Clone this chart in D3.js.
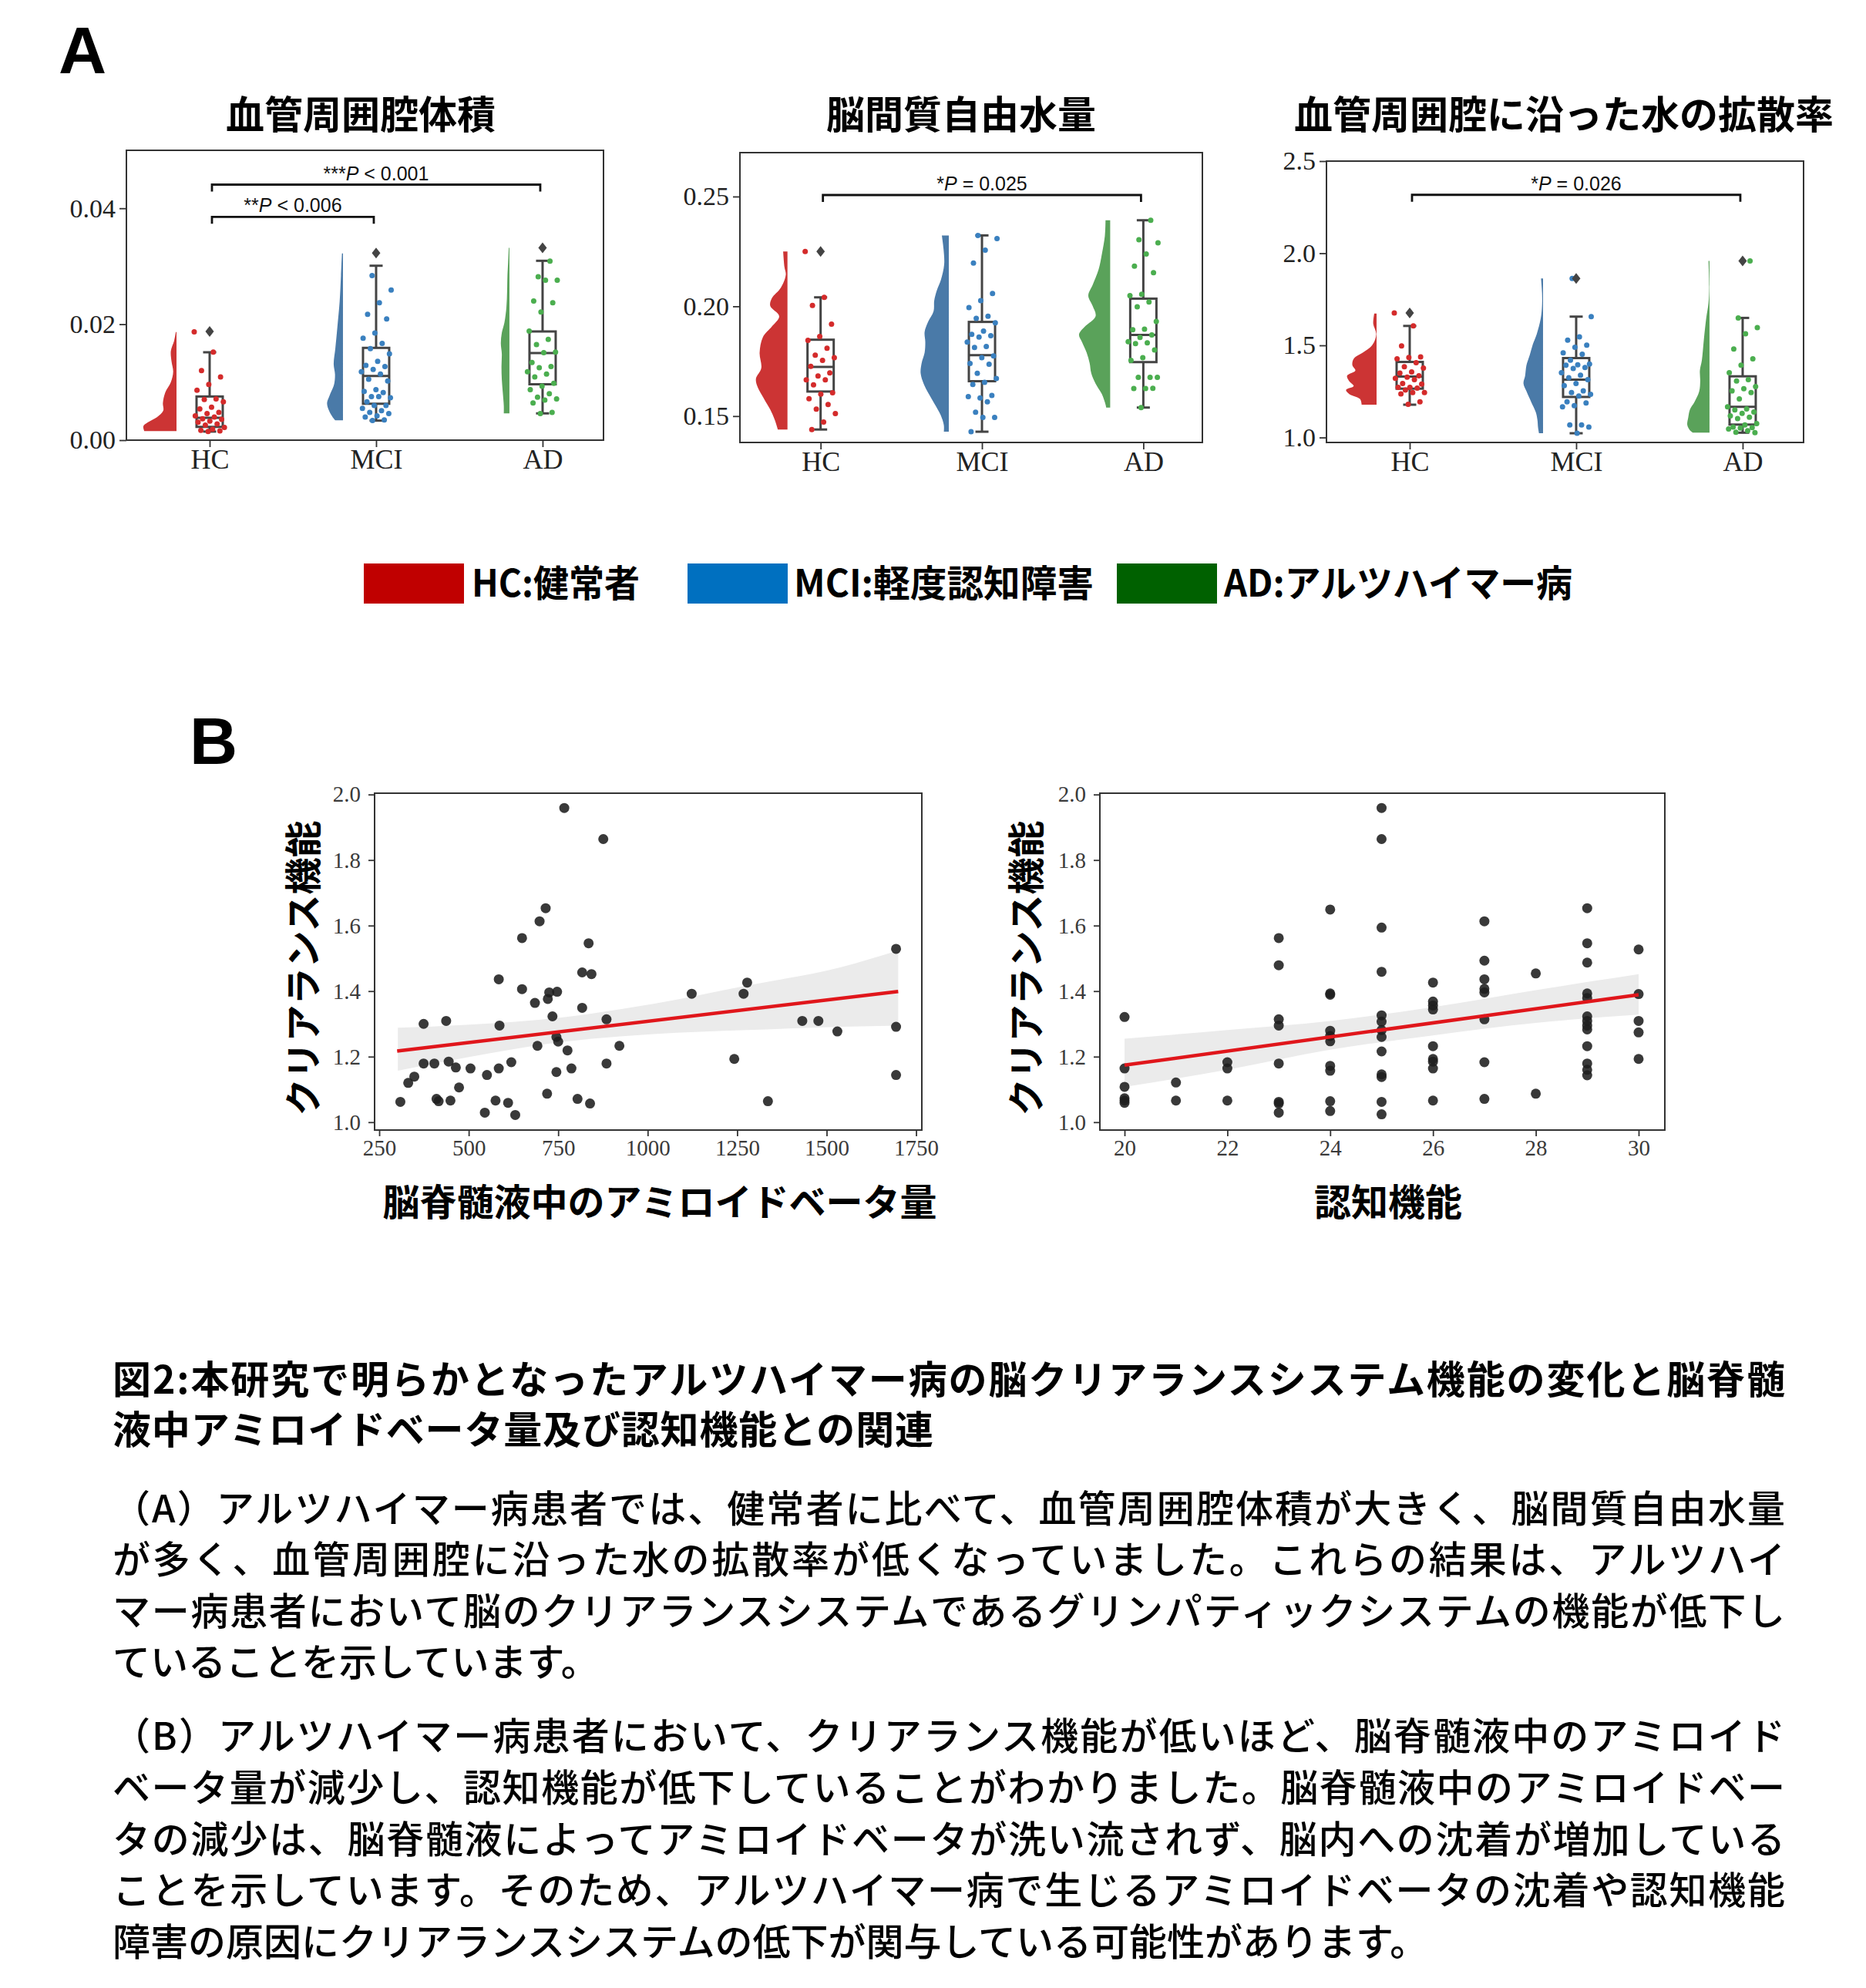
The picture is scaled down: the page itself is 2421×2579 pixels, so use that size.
<!DOCTYPE html>
<html><head><meta charset="utf-8">
<script src="https://cdn.jsdelivr.net/npm/d3@7"></script>
<style>html,body{margin:0;padding:0;background:#fff}svg{display:block}</style>
</head><body>
<svg id="c" width="2421" height="2579"></svg>
<script>
// ---------------- DATA ----------------
const groups = ["HC", "MCI", "AD"];
const violinColors = ["#cc3434", "#4a7aa8", "#5aa25a"];
const pointColors = ["#d42b2b", "#3a80bf", "#4bae4f"];

// Chart A1: 血管周囲腔体積
const pvsTitle = "血管周囲腔体積";
const pvsTicks = [0, 0.02, 0.04];
const pvsPoints = [
  [0.0187,0.0152,0.0120,0.0109,0.0096,0.0086,0.0071,0.0070,0.0066,0.0057,0.0054,0.0048,0.0046,0.0042,0.0040,0.0037,0.0036,0.0033,0.0031,0.0028,0.0026,0.0022,0.0019,0.0017,0.0016,0.0015],
  [0.0284,0.0259,0.0237,0.0217,0.0209,0.0185,0.0176,0.0167,0.0158,0.0149,0.0136,0.0129,0.0127,0.0122,0.0118,0.0114,0.0105,0.0102,0.0087,0.0084,0.0082,0.0075,0.0073,0.0075,0.0066,0.0060,0.0060,0.0055,0.0051,0.0048,0.0046,0.0042,0.0040,0.0035,0.0034],
  [0.0309,0.0282,0.0276,0.0276,0.0240,0.0237,0.0221,0.0188,0.0174,0.0165,0.0152,0.0151,0.0134,0.0127,0.0125,0.0118,0.0114,0.0109,0.0098,0.0093,0.0087,0.0080,0.0074,0.0071,0.0069,0.0064,0.0048,0.0046]
];
const pvsBoxes = [ // min, q1, median, q3, max
  [0.00148,0.00229,0.00385,0.00753,0.01516],
  [0.00337,0.00628,0.01108,0.01592,0.03009],
  [0.00462,0.00964,0.01502,0.01875,0.03094]
];
const pvsOutliers = [[0.01875],[0.03228],[0.03319]];
const pvsViolinValues = [
  [0.01865,0.01717,0.01539,0.01359,0.01180,0.01000,0.00821,0.00641,0.00507,0.00395,0.00305,0.00239,0.00157],
  [0.0322,0.02839,0.02391,0.01942,0.01583,0.01314,0.01135,0.00956,0.00776,0.00641,0.00507,0.00395,0.00341],
  [0.03319,0.03063,0.02839,0.02570,0.02300,0.02032,0.01852,0.01673,0.01494,0.01270,0.01046,0.00821,0.00597,0.00463]
];
const pvsViolinDensity = [
  [0.02,0.07,0.17,0.15,0.10,0.17,0.34,0.41,0.40,0.59,0.87,1.0,0.97],
  [0.03,0.06,0.10,0.17,0.23,0.28,0.24,0.27,0.40,0.48,0.42,0.31,0.23],
  [0.02,0.04,0.06,0.07,0.09,0.15,0.23,0.26,0.23,0.24,0.23,0.20,0.17,0.17]
];
const pvsBrackets = [[0,1,0.03852,"**","< 0.006"],[0,2,0.04408,"***","< 0.001"]];

// Chart A2: 脳間質自由水量
const fwTitle = "脳間質自由水量";
const fwTicks = [0.15, 0.20, 0.25];
const fwPoints = [
  [0.2250,0.2041,0.2004,0.1919,0.1863,0.1845,0.1809,0.1778,0.1766,0.1754,0.1727,0.1697,0.1683,0.1665,0.1665,0.1642,0.1606,0.1600,0.1579,0.1553,0.1532,0.1512,0.1473,0.1439],
  [0.2323,0.2309,0.2256,0.2197,0.2058,0.2026,0.1994,0.1955,0.1945,0.1925,0.1887,0.1872,0.1866,0.1860,0.1837,0.1817,0.1813,0.1774,0.1766,0.1740,0.1736,0.1695,0.1671,0.1654,0.1644,0.1594,0.1583,0.1589,0.1565,0.1518,0.1494,0.1494,0.1429],
  [0.2392,0.2303,0.2289,0.2238,0.2183,0.2153,0.2055,0.2049,0.2020,0.1998,0.1931,0.1896,0.1893,0.1870,0.1858,0.1839,0.1834,0.1830,0.1801,0.1766,0.1754,0.1677,0.1677,0.1677,0.1626,0.1626,0.1627,0.1539]
];
const fwBoxes = [
  [0.1439,0.1612,0.1724,0.1848,0.2041],
  [0.1429,0.1659,0.1778,0.1929,0.2323],
  [0.1539,0.1746,0.1870,0.2035,0.2392]
];
const fwOutliers = [[0.2250],[],[]];
const fwViolinValues = [
  [0.2250,0.2179,0.2144,0.2085,0.2037,0.2002,0.1955,0.1908,0.1860,0.1789,0.1719,0.1671,0.1636,0.1577,0.1530,0.1482,0.1439],
  [0.2323,0.2262,0.2191,0.2120,0.2073,0.2026,0.1978,0.1931,0.1884,0.1837,0.1789,0.1742,0.1695,0.1648,0.1600,0.1553,0.1506,0.1459,0.1429],
  [0.2392,0.2321,0.2238,0.2167,0.2097,0.2049,0.2002,0.1955,0.1908,0.1872,0.1837,0.1789,0.1742,0.1695,0.1648,0.1600,0.1553,0.1539]
];
const fwViolinDensity = [
  [0.13,0.09,0.05,0.20,0.47,0.52,0.25,0.47,0.74,0.84,0.79,0.95,0.91,0.70,0.52,0.38,0.29],
  [0.21,0.16,0.14,0.24,0.36,0.44,0.46,0.62,0.73,0.71,0.73,0.82,0.85,0.76,0.60,0.42,0.25,0.15,0.15],
  [0.14,0.16,0.25,0.35,0.53,0.66,0.53,0.44,0.76,0.94,0.85,0.71,0.62,0.57,0.44,0.25,0.14,0.12]
];
const fwBrackets = [[0,2,0.2507,"*","= 0.025"]];

// Chart A3: 血管周囲腔に沿った水の拡散率
const alpsTitle = "血管周囲腔に沿った水の拡散率";
const alpsTicks = [1.0, 1.5, 2.0, 2.5];
const alpsPoints = [
  [1.676,1.606,1.497,1.437,1.434,1.427,1.406,1.384,1.377,1.356,1.349,1.335,1.328,1.321,1.314,1.293,1.290,1.272,1.272,1.268,1.258,1.244,1.244,1.237,1.194,1.180],
  [1.863,1.656,1.546,1.528,1.501,1.490,1.459,1.452,1.420,1.399,1.394,1.392,1.380,1.375,1.352,1.338,1.324,1.314,1.293,1.282,1.253,1.244,1.234,1.225,1.194,1.187,1.173,1.166,1.068,1.068,1.057,1.023],
  [1.958,1.649,1.596,1.563,1.480,1.427,1.392,1.352,1.314,1.307,1.276,1.265,1.253,1.244,1.209,1.166,1.155,1.150,1.138,1.131,1.117,1.110,1.103,1.075,1.068,1.057,1.054,1.051,1.046,1.037,1.028,1.026]
];
const alpsBoxes = [
  [1.178,1.265,1.331,1.410,1.6055],
  [1.023,1.220,1.314,1.431,1.656],
  [1.026,1.070,1.166,1.332,1.649]
];
const alpsOutliers = [[1.676],[1.863],[1.958]];
const alpsViolinValues = [
  [1.673,1.617,1.561,1.504,1.462,1.427,1.392,1.363,1.335,1.307,1.279,1.258,1.237,1.209,1.178],
  [1.863,1.786,1.715,1.645,1.561,1.504,1.448,1.392,1.335,1.293,1.251,1.194,1.138,1.096,1.054,1.023],
  [1.958,1.814,1.730,1.645,1.532,1.420,1.363,1.307,1.251,1.194,1.152,1.110,1.068,1.039,1.026]
];
const alpsViolinDensity = [
  [0.07,0.10,0.01,0.12,0.40,0.69,0.73,0.64,0.89,0.83,0.69,0.92,0.83,0.50,0.45],
  [0.06,0.03,0.03,0.07,0.19,0.31,0.40,0.50,0.54,0.59,0.50,0.36,0.22,0.17,0.15,0.12],
  [0.03,0.01,0.03,0.10,0.17,0.23,0.29,0.28,0.31,0.45,0.59,0.64,0.67,0.59,0.50]
];
const alpsBrackets = [[0,2,2.317,"*","= 0.026"]];

// Legend
const legendLabels = ["HC:健常者", "MCI:軽度認知障害", "AD:アルツハイマー病"];
const legendColors = ["#c00000", "#0070c0", "#006100"];

// Panel B scatter 1: amyloid beta vs clearance
const clearTicks = [1.0, 1.2, 1.4, 1.6, 1.8, 2.0];
const abTicks = [250, 500, 750, 1000, 1250, 1500, 1750];
const abX = [767,876,715,698,649,835,584,817,843,1278,649,725,747,1123,1268,1694,721,685,817,734,374,437,586,885,1432,1477,1530,1694,745,750,692,776,921,374,404,444,464,505,584,619,787,885,1242,1694,348,331,551,745,473,309,410,416,449,575,610,719,804,839,1336,545,630];
const abY = [1.959,1.864,1.653,1.613,1.562,1.546,1.436,1.457,1.452,1.426,1.406,1.396,1.398,1.392,1.392,1.529,1.376,1.364,1.349,1.323,1.300,1.309,1.295,1.314,1.309,1.309,1.277,1.291,1.260,1.246,1.233,1.219,1.233,1.179,1.179,1.185,1.167,1.164,1.164,1.183,1.164,1.179,1.193,1.144,1.139,1.120,1.144,1.153,1.106,1.062,1.071,1.064,1.066,1.066,1.059,1.087,1.071,1.057,1.064,1.029,1.022];
const abFitX = [300, 1700];
const abFitY = [1.217, 1.399];
const abBandX = [302, 492, 754, 1016, 1278, 1540, 1700];
const abBandLow = [1.157, 1.197, 1.244, 1.269, 1.281, 1.291, 1.295];
const abBandHigh = [1.288, 1.297, 1.319, 1.361, 1.417, 1.473, 1.524];

// Panel B scatter 2: cognition vs clearance
const cogTicks = [20, 22, 24, 26, 28, 30];
const cogX = [20,20,20,20,20,20, 21,21, 22,22,22, 23,23,23,23,23,23,23,23, 24,24,24,24,24,24,24,24,24,24, 25,25,25,25,25,25,25,25,25,25,25,25,25, 26,26,26,26,26,26,26,26,26, 27,27,27,27,27,27,27,27, 28,28, 29,29,29,29,29,29,29,29,29,29,29,29,29, 30,30,30,30,30];
const cogY = [1.321,1.164,1.108,1.073,1.066,1.059, 1.121,1.066, 1.183,1.164,1.066, 1.562,1.479,1.314,1.295,1.179,1.062,1.057,1.029, 1.649,1.393,1.389,1.279,1.263,1.247,1.172,1.157,1.064,1.034, 1.959,1.864,1.594,1.459,1.326,1.307,1.281,1.260,1.216,1.146,1.138,1.062,1.024, 1.426,1.368,1.356,1.344,1.232,1.193,1.185,1.164,1.066, 1.613,1.493,1.436,1.407,1.396,1.314,1.183,1.071, 1.454,1.087, 1.653,1.546,1.487,1.393,1.379,1.323,1.309,1.295,1.283,1.232,1.179,1.160,1.143, 1.527,1.391,1.309,1.274,1.193];
const cogFitX = [20, 30];
const cogFitY = [1.174, 1.389];
const cogBandX = [20, 22, 24, 26, 28, 30];
const cogBandLow = [1.108, 1.160, 1.221, 1.265, 1.303, 1.328];
const cogBandHigh = [1.255, 1.281, 1.309, 1.351, 1.403, 1.452];

const yLabelB = "クリアランス機能";
const xLabelAb = "脳脊髄液中のアミロイドベータ量";
const xLabelCog = "認知機能";

// Caption text
const headingLines = [
  "図2:本研究で明らかとなったアルツハイマー病の脳クリアランスシステム機能の変化と脳脊髄",
  "液中アミロイドベータ量及び認知機能との関連"
];
const paraALines = [
  "（A）アルツハイマー病患者では、健常者に比べて、血管周囲腔体積が大きく、脳間質自由水量",
  "が多く、血管周囲腔に沿った水の拡散率が低くなっていました。これらの結果は、アルツハイ",
  "マー病患者において脳のクリアランスシステムであるグリンパティックシステムの機能が低下し",
  "ていることを示しています。"
];
const paraBLines = [
  "（B）アルツハイマー病患者において、クリアランス機能が低いほど、脳脊髄液中のアミロイド",
  "ベータ量が減少し、認知機能が低下していることがわかりました。脳脊髄液中のアミロイドベー",
  "タの減少は、脳脊髄液によってアミロイドベータが洗い流されず、脳内への沈着が増加している",
  "ことを示しています。そのため、アルツハイマー病で生じるアミロイドベータの沈着や認知機能",
  "障害の原因にクリアランスシステムの低下が関与している可能性があります。"
];

// ---------------- DRAWING ----------------
const svg = d3.select("#c");
const CJK = "'Noto Sans CJK JP','Noto Sans CJK SC',sans-serif";
const SERIF = "'Liberation Serif','Times New Roman',serif";
const SANS = "'Liberation Sans',Arial,sans-serif";

svg.append("rect").attr("width", 2421).attr("height", 2579).attr("fill", "#fff");

function styleAxis(g, size, color) {
  g.select(".domain").remove();
  g.selectAll(".tick line").attr("stroke", "#333").attr("stroke-width", 1.8);
  g.selectAll(".tick text").attr("font-family", SERIF).attr("font-size", size).attr("fill", color);
}

function rainChart(cfg) {
  const g = svg.append("g");
  const x = d3.scaleLinear().domain([-0.5, 2.366]).range([cfg.left, cfg.right]);
  const y = d3.scaleLinear().domain(cfg.yDomain).range([cfg.bottom, cfg.top]);
  const w = d3.scaleLinear().domain([0, 1]).range([0, 43]);

  g.append("text").attr("x", cfg.titleX).attr("y", 145).attr("text-anchor", "middle")
    .attr("dominant-baseline", "central").attr("font-family", CJK).attr("font-weight", 700)
    .attr("font-size", 50).attr("fill", "#000").text(cfg.title);

  // violins
  groups.forEach((grp, i) => {
    const cx = x(i);
    const pts = d3.zip(cfg.vv[i], cfg.vd[i]);
    const area = d3.area()
      .y(d => y(d[0]))
      .x0(() => cx - 43)
      .x1(d => cx - 43 - w(d[1]))
      .curve(d3.curveCatmullRom.alpha(0.5));
    g.append("path").attr("d", area(pts)).attr("fill", violinColors[i]).attr("stroke", "none");
  });

  // boxes
  groups.forEach((grp, i) => {
    const cx = x(i);
    const b = cfg.boxes[i];
    const bw = 34, cw = 17;
    const bg = g.append("g").attr("stroke", "#444").attr("stroke-width", 3).attr("fill", "none");
    bg.append("line").attr("x1", cx).attr("x2", cx).attr("y1", y(b[3])).attr("y2", y(b[4]));
    bg.append("line").attr("x1", cx).attr("x2", cx).attr("y1", y(b[1])).attr("y2", y(b[0]));
    bg.append("line").attr("x1", cx - cw / 2).attr("x2", cx + cw / 2).attr("y1", y(b[4])).attr("y2", y(b[4]));
    bg.append("line").attr("x1", cx - cw / 2).attr("x2", cx + cw / 2).attr("y1", y(b[0])).attr("y2", y(b[0]));
    bg.append("rect").attr("x", cx - bw / 2).attr("width", bw).attr("y", y(b[3])).attr("height", y(b[1]) - y(b[3]));
    bg.append("line").attr("x1", cx - bw / 2).attr("x2", cx + bw / 2).attr("y1", y(b[2])).attr("y2", y(b[2]));
  });

  // strip points
  groups.forEach((grp, i) => {
    const cx = x(i);
    g.append("g").selectAll("circle").data(cfg.points[i]).join("circle")
      .attr("cx", (d, j) => cx + (((j * 0.6180339887 + i * 0.37) % 1) - 0.5) * 40)
      .attr("cy", d => y(d)).attr("r", 3.5).attr("fill", pointColors[i]);
  });

  // outliers (diamonds)
  groups.forEach((grp, i) => {
    const cx = x(i);
    g.append("g").selectAll("path").data(cfg.outliers[i]).join("path")
      .attr("d", d => { const yy = y(d); return `M${cx},${yy - 7}L${cx + 5.5},${yy}L${cx},${yy + 7}L${cx - 5.5},${yy}Z`; })
      .attr("fill", "#444");
  });

  // brackets
  cfg.brackets.forEach(b => {
    const x1 = x(b[0]) + 3, x2 = x(b[1]) - 3, yy = y(b[2]);
    g.append("path").attr("d", `M${x1},${yy + 9}V${yy}H${x2}V${yy + 9}`)
      .attr("fill", "none").attr("stroke", "#111").attr("stroke-width", 2.8);
    const t = g.append("text").attr("x", (x1 + x2) / 2).attr("y", yy - 15).attr("text-anchor", "middle")
      .attr("dominant-baseline", "central").attr("font-family", SANS).attr("font-size", 25).attr("fill", "#111");
    t.append("tspan").text(b[3]);
    t.append("tspan").attr("font-style", "italic").text("P");
    t.append("tspan").text(" " + b[4]);
  });

  // axes
  const ya = g.append("g").attr("transform", `translate(${cfg.left},0)`)
    .call(d3.axisLeft(y).tickValues(cfg.ticks).tickSize(9).tickPadding(5).tickFormat(d3.format(cfg.fmt)));
  styleAxis(ya, 34, "#222");
  const xa = g.append("g").attr("transform", `translate(0,${cfg.bottom})`)
    .call(d3.axisBottom(x).tickValues([0, 1, 2]).tickSize(9).tickPadding(2).tickFormat(i => groups[i]));
  styleAxis(xa, 36, "#222");

  g.append("rect").attr("x", cfg.left).attr("y", cfg.top).attr("width", cfg.right - cfg.left)
    .attr("height", cfg.bottom - cfg.top).attr("fill", "none").attr("stroke", "#333").attr("stroke-width", 2);
}

rainChart({ title: pvsTitle, titleX: 468, left: 164, right: 783, top: 195, bottom: 571, yDomain: [0, 0.05],
  ticks: pvsTicks, fmt: ".2f", points: pvsPoints, boxes: pvsBoxes, outliers: pvsOutliers,
  vv: pvsViolinValues, vd: pvsViolinDensity, brackets: pvsBrackets });
rainChart({ title: fwTitle, titleX: 1247, left: 960, right: 1560, top: 198, bottom: 574, yDomain: [0.138, 0.270],
  ticks: fwTicks, fmt: ".2f", points: fwPoints, boxes: fwBoxes, outliers: fwOutliers,
  vv: fwViolinValues, vd: fwViolinDensity, brackets: fwBrackets });
rainChart({ title: alpsTitle, titleX: 2029, left: 1721, right: 2340, top: 209, bottom: 574, yDomain: [0.973, 2.5],
  ticks: alpsTicks, fmt: ".1f", points: alpsPoints, boxes: alpsBoxes, outliers: alpsOutliers,
  vv: alpsViolinValues, vd: alpsViolinDensity, brackets: alpsBrackets });

// Panel letters
svg.append("text").attr("x", 76).attr("y", 95).attr("font-family", SANS).attr("font-weight", 700)
  .attr("font-size", 86).attr("fill", "#000").text("A");
svg.append("text").attr("x", 246).attr("y", 991).attr("font-family", SANS).attr("font-weight", 700)
  .attr("font-size", 86).attr("fill", "#000").text("B");

// Legend
const legX = [472, 892, 1449];
const legTextX = [612, 1030, 1588];
const legTextW = [218, 389, 452];
legendLabels.forEach((lab, i) => {
  svg.append("rect").attr("x", legX[i]).attr("y", 731).attr("width", 130).attr("height", 52).attr("fill", legendColors[i]);
  svg.append("text").attr("x", legTextX[i]).attr("y", 753).attr("dominant-baseline", "central")
    .attr("font-family", CJK).attr("font-weight", 700).attr("font-size", 48).attr("fill", "#000")
    .attr("textLength", legTextW[i]).attr("lengthAdjust", "spacingAndGlyphs").text(lab);
});

// Scatter plots
function scatter(cfg) {
  const g = svg.append("g");
  const x = d3.scaleLinear().domain(cfg.xDomain).range([cfg.left, cfg.right]);
  const y = d3.scaleLinear().domain([0.976, 2.004]).range([cfg.bottom, cfg.top]);
  const band = d3.area().x(d => x(d[0])).y0(d => y(d[1])).y1(d => y(d[2])).curve(d3.curveMonotoneX);
  g.append("path").attr("d", band(d3.zip(cfg.bandX, cfg.bandLow, cfg.bandHigh))).attr("fill", "#ebebeb");
  g.append("g").selectAll("circle").data(d3.zip(cfg.px, cfg.py)).join("circle")
    .attr("cx", d => x(d[0])).attr("cy", d => y(d[1])).attr("r", 6.5)
    .attr("fill", "#1e1e1e").attr("fill-opacity", 0.88);
  const line = d3.line().x(d => x(d[0])).y(d => y(d[1]));
  g.append("path").attr("d", line(d3.zip(cfg.fitX, cfg.fitY))).attr("stroke", "#e0161b")
    .attr("stroke-width", 4.5).attr("fill", "none");

  const ya = g.append("g").attr("transform", `translate(${cfg.left},0)`)
    .call(d3.axisLeft(y).tickValues(clearTicks).tickSize(8).tickPadding(10).tickFormat(d3.format(".1f")));
  styleAxis(ya, 29, "#3a3a3a");
  const xa = g.append("g").attr("transform", `translate(0,${cfg.bottom})`)
    .call(d3.axisBottom(x).tickValues(cfg.xTicks).tickSize(8).tickPadding(4).tickFormat(d3.format("d")));
  styleAxis(xa, 29, "#3a3a3a");
  g.append("rect").attr("x", cfg.left).attr("y", cfg.top).attr("width", cfg.right - cfg.left)
    .attr("height", cfg.bottom - cfg.top).attr("fill", "none").attr("stroke", "#333").attr("stroke-width", 2);

  g.append("text").attr("transform", `translate(${cfg.yLabX},1256) rotate(-90)`).attr("text-anchor", "middle")
    .attr("dominant-baseline", "central").attr("font-family", CJK).attr("font-weight", 700)
    .attr("font-size", 48).attr("fill", "#000").text(yLabelB);
  g.append("text").attr("x", cfg.xLabX).attr("y", 1556).attr("text-anchor", "middle")
    .attr("dominant-baseline", "central").attr("font-family", CJK).attr("font-weight", 700)
    .attr("font-size", 48).attr("fill", "#000").text(cfg.xLabel);
}

scatter({ left: 486, right: 1196, top: 1029, bottom: 1466, xDomain: [237, 1766], xTicks: abTicks,
  px: abX, py: abY, fitX: abFitX, fitY: abFitY, bandX: abBandX, bandLow: abBandLow, bandHigh: abBandHigh,
  yLabX: 390, xLabX: 856, xLabel: xLabelAb });
scatter({ left: 1427, right: 2160, top: 1029, bottom: 1466, xDomain: [19.52, 30.51], xTicks: cogTicks,
  px: cogX, py: cogY, fitX: cogFitX, fitY: cogFitY, bandX: cogBandX, bandLow: cogBandLow, bandHigh: cogBandHigh,
  yLabX: 1328, xLabX: 1801, xLabel: xLabelCog });

// Caption
const TX = 146, TW = 2170;
const headY = [1786, 1851];
headingLines.forEach((s, i) => {
  const t = svg.append("text").attr("x", TX).attr("y", headY[i]).attr("dominant-baseline", "central")
    .attr("font-family", CJK).attr("font-weight", 700).attr("font-size", 50).attr("fill", "#000").text(s);
  if (i === 0) t.attr("textLength", TW).attr("lengthAdjust", "spacing");
  else t.attr("textLength", 1065).attr("lengthAdjust", "spacing");
});
const paraAY = [1953, 2019, 2086, 2152];
paraALines.forEach((s, i) => {
  const t = svg.append("text").attr("x", TX).attr("y", paraAY[i]).attr("dominant-baseline", "central")
    .attr("font-family", CJK).attr("font-weight", 500).attr("font-size", 49).attr("fill", "#000").text(s);
  if (i < paraALines.length - 1) t.attr("textLength", TW).attr("lengthAdjust", "spacing");
});
const paraBY = [2248, 2315, 2382, 2448, 2515];
paraBLines.forEach((s, i) => {
  const t = svg.append("text").attr("x", TX).attr("y", paraBY[i]).attr("dominant-baseline", "central")
    .attr("font-family", CJK).attr("font-weight", 500).attr("font-size", 49).attr("fill", "#000").text(s);
  if (i < paraBLines.length - 1) t.attr("textLength", TW).attr("lengthAdjust", "spacing");
});
</script>
</body></html>
